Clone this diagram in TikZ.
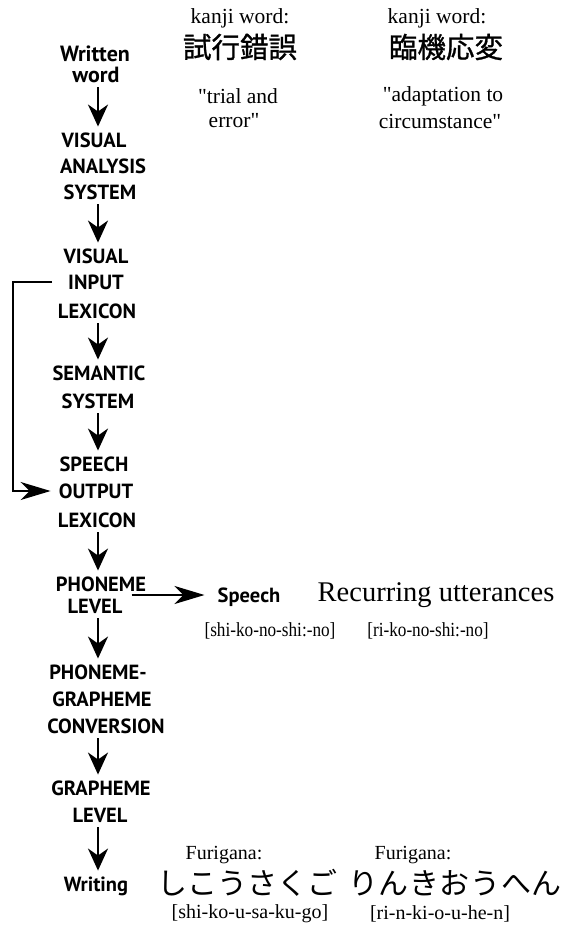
\documentclass[tikz,border=0pt]{standalone}
\usepackage{fontspec}
\setmainfont{Liberation Serif}[Ligatures=TeXOff]
\newfontfamily\labsans{PT Sans}
\newfontfamily\jp{Noto Sans CJK JP}
\newfontfamily\jpheavy{Noto Sans CJK JP}[FakeBold=1]
\usetikzlibrary{arrows.meta}

\tikzset{
  x=1pt, y=-1pt,
  stage/.style={font=\labsans\bfseries\fontsize{20.5}{24}\selectfont,
    inner sep=0pt, text height=14.5pt, text depth=0pt},
  gloss/.style={font=\fontsize{21.5}{24}\selectfont, inner sep=0pt},
  bracket/.style={font=\fontsize{20}{24}\selectfont, inner sep=0pt},
  kanji/.style={font=\jpheavy\fontsize{28.5}{32}\selectfont, inner sep=0pt},
  kana/.style={font=\jp\fontsize{30}{34}\selectfont, inner sep=0pt},
  varr/.style={line width=2.4pt,
    -{Stealth[length=22pt,width=20pt,inset=7pt]},
    shorten <=5pt, shorten >=6pt},
  harr/.style={line width=2.2pt,
    -{Stealth[length=30pt,width=18pt,inset=9pt]}},
}
% slightly tighter setting for the transcriptions under Speech
\newcommand{\narrowtext}[1]{\scalebox{0.86}[1]{#1}}

\begin{document}
\begin{tikzpicture}
\useasboundingbox (0,0) rectangle (563,929);
\coordinate (ax) at (98,0);
\coordinate (fbx) at (13,0);

% processing stages, one node per printed line
\node[stage, font=\labsans\bfseries\fontsize{22}{24}\selectfont] (w1) at (95,54) {Written};
\node[stage, font=\labsans\bfseries\fontsize{22}{24}\selectfont] (w2) at (96,75) {word};
\node[stage] (v1) at (94,140) {VISUAL};
\node[stage] (v2) at (103,166) {ANALYSIS};
\node[stage] (v3) at (100,192) {SYSTEM};
\node[stage] (i1) at (96,256) {VISUAL};
\node[stage] (i2) at (96,282) {INPUT};
\node[stage] (i3) at (97,311) {LEXICON};
\node[stage] (s1) at (99,373) {SEMANTIC};
\node[stage] (s2) at (98,401) {SYSTEM};
\node[stage] (o1) at (94,464) {SPEECH};
\node[stage] (o2) at (96,491) {OUTPUT};
\node[stage] (o3) at (97,520) {LEXICON};
\node[stage] (p1) at (101,584) {PHONEME};
\node[stage] (p2) at (95,606) {LEVEL};
\node[stage] (c1) at (98,672) {PHONEME-};
\node[stage] (c2) at (102,699) {GRAPHEME};
\node[stage] (c3) at (106,726) {CONVERSION};
\node[stage] (g1) at (101,788) {GRAPHEME};
\node[stage] (g2) at (100,815) {LEVEL};
\node[stage] (wr) at (96,884) {Writing};

% downward flow
\draw[varr] (w2.south -| ax) -- (v1.north -| ax);
\draw[varr] (v3.south -| ax) -- (i1.north -| ax);
\draw[varr] (i3.south -| ax) -- (s1.north -| ax);
\draw[varr] (s2.south -| ax) -- (o1.north -| ax);
\draw[varr] (o3.south -| ax) -- (p1.north -| ax);
\draw[varr] (p2.south -| ax) -- (c1.north -| ax);
\draw[varr] (c3.south -| ax) -- (g1.north -| ax);
\draw[varr] (g2.south -| ax) -- (wr.north -| ax);

% lexical route bypassing semantics
\draw[harr, shorten <=16pt, shorten >=8pt] (i2.west) -- (i2.west -| fbx) |- (o2.west);

% speech output
\node[stage] (sp) at (249,595) {Speech};
\draw[harr, shorten <=9pt, shorten >=13pt] (sp.west -| p2.east) -- (sp.west);
\node[font=\fontsize{28.5}{32}\selectfont, inner sep=0pt] (ru) at (436,595) {Recurring utterances};
\node[bracket] (sb1) at (270,631) {\narrowtext{[shi-ko-no-shi:-no]}};
\node[bracket] (sb2) at (428,631) {\narrowtext{[ri-ko-no-shi:-no]}};

% kanji examples
\node[gloss] (k1) at (240,18) {kanji word:};
\node[kanji] (kj1) at (240,47) {試行錯誤};
\node[gloss] (t1) at (238,96) {"trial and};
\node[gloss] (t2) at (234,121) {error"};
\node[gloss] (k2) at (437,18) {kanji word:};
\node[kanji] (kj2) at (446,47) {臨機応変};
\node[gloss] (a1) at (443,96) {"adaptation to};
\node[gloss] (a2) at (440,121) {circumstance"};

% furigana examples
\node[gloss, font=\fontsize{20}{24}\selectfont] (f1) at (224,855) {Furigana:};
\node[gloss, font=\fontsize{20}{24}\selectfont] (f2) at (413,855) {Furigana:};
\node[kana] (h1) at (247,883) {しこうさくご};
\node[kana, font=\jp\fontsize{30}{34}\selectfont\addfontfeature{LetterSpace=2}] (h2) at (455,883) {りんきおうへん};
\node[bracket] (fb1) at (250,914) {[shi-ko-u-sa-ku-go]};
\node[bracket] (fb2) at (440,914) {[ri-n-ki-o-u-he-n]};
\end{tikzpicture}
\end{document}
